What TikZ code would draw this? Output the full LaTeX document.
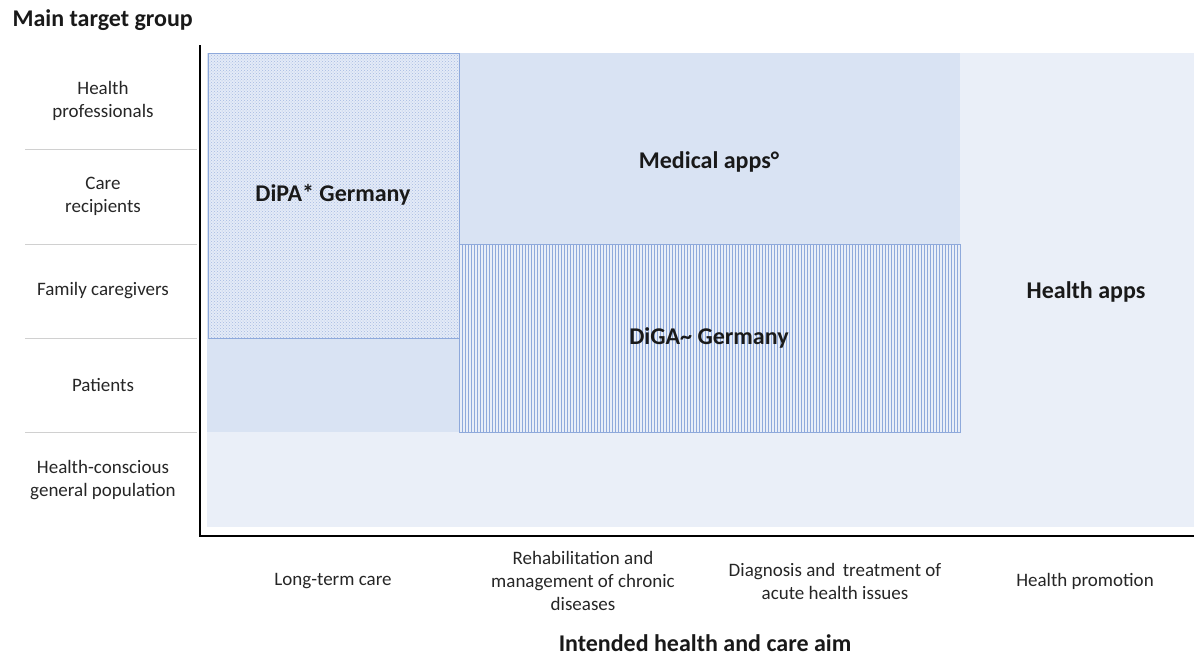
\documentclass[tikz,border=0pt]{standalone}
\usepackage{fontspec}
\setmainfont{Carlito}
\usetikzlibrary{patterns, positioning}

\definecolor{appsbg}{HTML}{EAEFF8}
\definecolor{medbg}{HTML}{D9E3F3}
\definecolor{hatch}{HTML}{8EA9DB}
\definecolor{rowline}{HTML}{D0D0D0}

\begin{document}
\begin{tikzpicture}[x=1pt,y=-1pt,
    lbl/.style={align=center,font=\fontsize{19}{23}\selectfont,text=black!85},
    big/.style={font=\fontsize{24}{28}\selectfont\bfseries,text=black!90}]
  \useasboundingbox (0,0) rectangle (1194,657);

  % app areas, back to front
  \fill[appsbg] (207,53) rectangle (1194,527);
  \fill[medbg] (207,53) rectangle (960,432);
  \fill[medbg!70!white] (208,53) rectangle (459,338);
  \fill[pattern=crosshatch dots,pattern color=hatch!80] (208,53) rectangle (459,338);
  \draw[hatch,line width=0.8pt] (208,53) rectangle (459,338);
  \fill[medbg!60!white] (459,244) rectangle (960,432);
  \fill[pattern=vertical lines,pattern color=hatch] (459,244) rectangle (960,432);
  \draw[hatch,line width=0.8pt] (459,244) rectangle (960,432);

  % axes
  \draw[line width=2.5pt] (200,45) -- (200,536) -- (1194,536);

  % row separators
  \foreach \y in {149,244,338,432}
    \draw[rowline,line width=0.8pt] (25,\y) -- (197,\y);

  % titles
  \node[big,anchor=west] (ytitle) at (9,20) {Main target group};
  \node[big,inner ysep=0pt] (xtitle) at (705,643) {Intended health and care aim};

  % target groups
  \node[lbl] (prof) at (103,101) {Health\\professionals};
  \node[lbl] (recip) at (103,196) {Care\\recipients};
  \node[lbl] (family) at (103,291) {Family caregivers};
  \node[lbl] (patients) at (103,385) {Patients};
  \node[lbl] (public) at (103,480) {Health-conscious\\general population};

  % care aims
  \node[lbl] (ltc) at (333,581) {Long-term care};
  \node[lbl] (rehab) at (583,581) {Rehabilitation and\\management of chronic\\diseases};
  \node[lbl] (acute) at (835,581) {Diagnosis and\, treatment of\\acute health issues};
  \node[lbl] (promo) at (1085,581) {Health promotion};

  % app kinds
  \node[big] (dipa) at (333,195) {DiPA* Germany};
  \node[big] (medapps) at (709,162) {Medical apps°};
  \node[big] (diga) at (709,338) {DiGA\textasciitilde\ Germany};
  \node[big] (healthapps) at (1086,292) {Health apps};
\end{tikzpicture}
\end{document}
